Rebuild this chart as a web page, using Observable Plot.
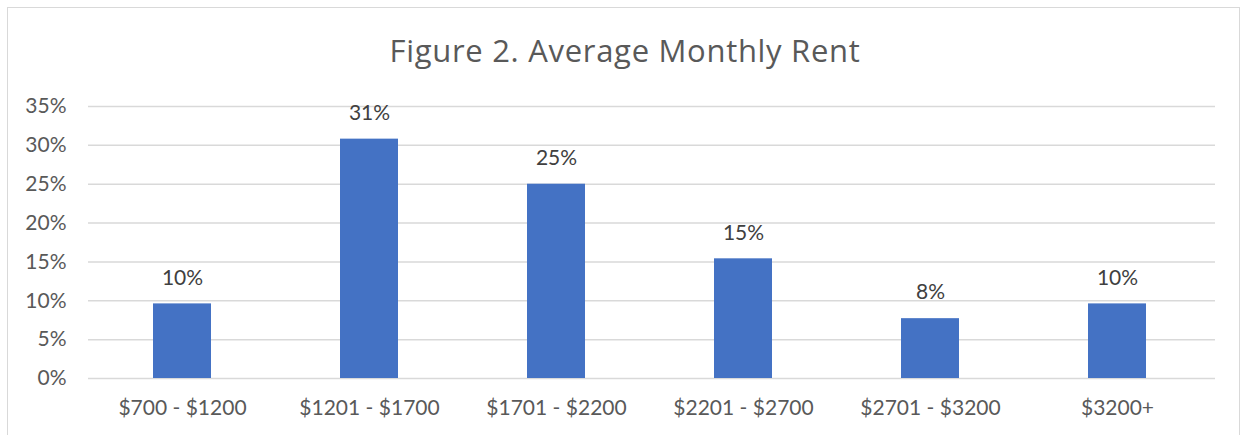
<!DOCTYPE html>
<html>
<head>
<meta charset="utf-8">
<script src="https://cdn.jsdelivr.net/npm/d3@7"></script>
<script src="https://cdn.jsdelivr.net/npm/@observablehq/plot@0.6"></script>
<style>
  html, body { margin: 0; padding: 0; background: #fff; }
  #wrap { position: relative; width: 1244px; height: 435px; overflow: hidden; }
  #frame { position: absolute; left: 7px; top: 7px; width: 1233px; height: 440px; border: 1.5px solid #d9d9d9; box-sizing: border-box; }
  #title { position: absolute; left: 0; width: 1250px; top: 30px; text-align: center; line-height: 40px;
           font-family: "Open Sans", sans-serif; font-weight: 400; font-size: 31px; letter-spacing: 0.7px; color: #595959; }
  #chart { position: absolute; left: 0; top: 0; }
</style>
</head>
<body>
<div id="wrap">
  <div id="frame"></div>
  <div id="chart"></div>
  <div id="title">Figure 2. Average Monthly Rent</div>
</div>
<script>
const categories = ["$700 - $1200", "$1201 - $1700", "$1701 - $2200", "$2201 - $2700", "$2701 - $3200", "$3200+"];
const shares = [0.096, 0.308, 0.25, 0.154, 0.077, 0.096];
const yTicks = [0, 0.05, 0.10, 0.15, 0.20, 0.25, 0.30, 0.35];

const data = categories.map((c, i) => ({category: c, share: shares[i]}));
const font = "Lato, sans-serif";

const chart = Plot.plot({
  width: 1244,
  height: 435,
  marginTop: 106,
  marginBottom: 57,
  marginLeft: 88,
  marginRight: 29,
  style: {fontFamily: font, fontSize: "21px", color: "#595959", background: "transparent"},
  x: {domain: categories, paddingInner: 0.69, paddingOuter: 0.345, label: null},
  y: {domain: [0, 0.35], label: null},
  marks: [
    Plot.ruleY(yTicks, {stroke: "#d9d9d9", strokeWidth: 1.5}),
    Plot.barY(data, {x: "category", y: "share", fill: "#4472c4", dx: -2}),
    Plot.text(data, {x: "category", y: "share", text: d => Math.round(d.share * 100) + "%",
      dy: -26, dx: -2, fill: "#404040", fontSize: 21}),
    Plot.axisY({ticks: yTicks, tickSize: 0, tickPadding: 22, tickFormat: d => Math.round(d * 100) + "%",
      fill: "#595959", fontSize: 21}),
    Plot.axisX({tickSize: 0, tickPadding: 22, dx: -2, fill: "#595959", fontSize: 21})
  ]
});
document.getElementById("chart").appendChild(chart);
</script>
</body>
</html>
